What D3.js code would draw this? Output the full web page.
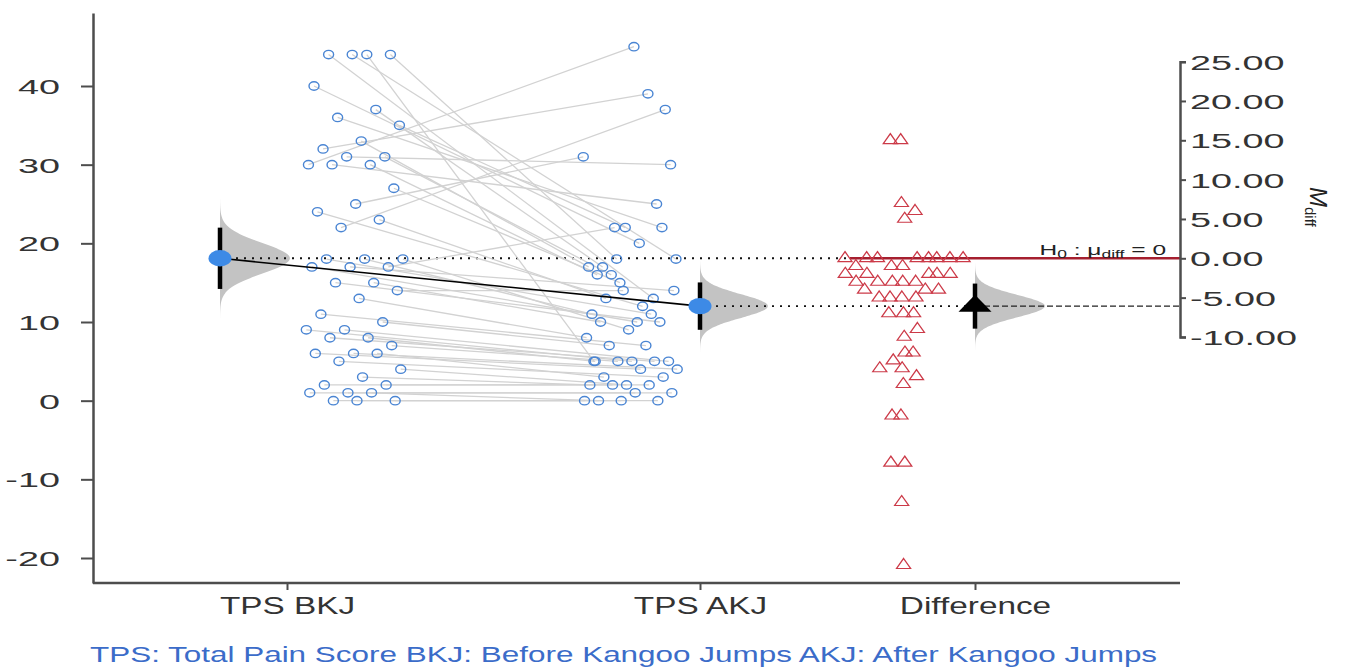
<!DOCTYPE html>
<html>
<head>
<meta charset="utf-8">
<script src="https://cdn.jsdelivr.net/npm/d3@7"></script>
<style>
  body { margin: 0; background: #fff; }
  text { font-family: "Liberation Sans", Arial, sans-serif; }
</style>
</head>
<body>
<div id="chart"></div>
<script>
// categories on the x axis
const categories = ["TPS BKJ", "TPS AKJ", "Difference"];

// paired total pain scores, same index = same participant
const bkjScores = [44, 44, 44, 44, 40, 37, 36, 35, 33, 32, 31, 31, 30, 30, 30, 27, 25, 24, 23, 22,
                   18, 18, 18, 17, 17, 17, 15, 15, 14, 13, 11, 10, 9, 9, 8, 8, 7, 6, 6, 6,
                   5, 4, 3, 2, 2, 1, 1, 1, 0, 0, 0];
const akjScores = [5, 13, 18, 18, 20, 17, 22, 22, 17, 39, 16, 30, 45, 16, 25, 15, 31, 12, 13, 37,
                   9, 11, 11, 22, 14, 10, 10, 10, 14, 8, 7, 7, 5, 5, 5, 5, 5, 4, 4, 3,
                   3, 2, 2, 2, 2, 1, 1, 0, 0, 0, 0];

const leftTicks = [-20, -10, 0, 10, 20, 30, 40];
const rightTicks = [-10, -5, 0, 5, 10, 15, 20, 25];
const footnote = "TPS: Total Pain Score BKJ: Before Kangoo Jumps AKJ: After Kangoo Jumps";

const W = 1351, H = 668;
const svg = d3.select("#chart").append("svg")
  .attr("width", W)
  .attr("height", H);

// stats (t critical for df = 50)
const tCrit = 2.009;
function stats(arr) {
  const m = d3.mean(arr), se = d3.deviation(arr) / Math.sqrt(arr.length);
  return {mean: m, se: se, lo: m - tCrit * se, hi: m + tCrit * se};
}
const diffScores = bkjScores.map((b, i) => akjScores[i] - b);
const sB = stats(bkjScores), sA = stats(akjScores), sD = stats(diffScores);

// layout
const axisX = 93, axisRightX = 1180, axisBottom = 583, axisTop = 13;
const xCat = d3.scaleOrdinal(categories, [287, 700, 975]);
const yL = d3.scaleLinear().domain([-20, 40]).range([558, 86]);
const yR = d3.scaleLinear().domain([-10, 25])
  .range([yL(-10 + sB.mean), yL(25 + sB.mean)]);

const axisColor = "#4d4d4d";
const blue = "#4a85d3", red = "#cc3a48", meanBlue = "#3d8ae6";
const hyphen = f => d => f(d).replace("\u2212", "-");

// deterministic spread of raw points
const jitter = (i, w) => (((i + 1) * 0.6180339887) % 1 - 0.5) * w;

// loose beeswarm: nearest free slot to the centre line, overlap allowed
function swarm(ys, cx, dxMin, dyMin) {
  const placed = [];
  return ys.map((y, i) => {
    let x = cx;
    for (let k = 0; k < 200; k++) {
      const off = ((k + i) % 2 ? 1 : -1) * Math.ceil(k / 2) * 2;
      const cand = cx + off;
      if (!placed.some(p => Math.abs(p.x - cand) < dxMin && Math.abs(p.y - y) < dyMin)) { x = cand; break; }
    }
    placed.push({x: x, y: y});
    return {x: x + jitter(i, 5), y: y};
  });
}

const bkjX = xCat("TPS BKJ") - 67, akjX = xCat("TPS AKJ"), diffX = xCat("Difference");
const rawB = bkjScores.map((v, i) => ({x: xCat("TPS BKJ") + 68 + jitter(i, 100), y: yL(v)}));
const rawA = akjScores.map((v, i) => ({x: xCat("TPS AKJ") - 70 + jitter(i + 17, 96), y: yL(v)}));
const rawD = swarm(diffScores.map(v => yR(v)), diffX - 72, 11.5, 9);

// sampling distributions
function densityPath(cx, yScale, s, maxW) {
  const pts = d3.range(-4.2, 4.21, 0.1).map(z => ({v: s.mean + z * s.se, w: maxW * Math.exp(-0.5 * z * z)}));
  return d3.area().curve(d3.curveBasis)
    .y(d => yScale(d.v)).x0(cx).x1(d => cx + d.w)(pts);
}
const dens = svg.append("g").attr("class", "densities").style("fill", "#c3c3c3");
dens.append("path").attr("d", densityPath(bkjX, yL, sB, 70));
dens.append("path").attr("d", densityPath(akjX, yL, sA, 68));
dens.append("path").attr("d", densityPath(diffX, yR, sD, 70));

// reference lines
const refs = svg.append("g").attr("class", "refs");
refs.append("line")
  .attr("x1", bkjX).attr("x2", 850).attr("y1", yL(sB.mean)).attr("y2", yL(sB.mean))
  .style("stroke", "#111").style("stroke-width", 2).style("stroke-dasharray", "2,6");
refs.append("line")
  .attr("x1", akjX).attr("x2", 965).attr("y1", yR(sD.mean)).attr("y2", yR(sD.mean))
  .style("stroke", "#111").style("stroke-width", 1.6).style("stroke-dasharray", "2,6");
refs.append("line")
  .attr("x1", diffX).attr("x2", axisRightX).attr("y1", yR(sD.mean)).attr("y2", yR(sD.mean))
  .style("stroke", "#222").style("stroke-width", 1.2).style("stroke-dasharray", "6,3");
refs.append("line")
  .attr("x1", 850).attr("x2", axisRightX).attr("y1", yR(0)).attr("y2", yR(0))
  .style("stroke", "#a51f2f").style("stroke-width", 2.5);

// paired lines
svg.append("g").attr("class", "pairs")
  .selectAll("line").data(d3.range(bkjScores.length)).enter()
  .append("line")
  .attr("x1", i => rawB[i].x).attr("y1", i => rawB[i].y)
  .attr("x2", i => rawA[i].x).attr("y2", i => rawA[i].y)
  .style("stroke", "#d2d2d2").style("stroke-width", 1.3);

// raw points
const pts = svg.append("g").attr("class", "raw");
pts.selectAll(".pb").data(rawB.concat(rawA)).enter()
  .append("ellipse")
  .attr("cx", d => d.x).attr("cy", d => d.y)
  .attr("rx", 5).attr("ry", 4.2)
  .style("fill", "none").style("stroke", blue).style("stroke-width", 1.4);

const triSmall = d3.symbol(d3.symbolTriangle).size(58);
pts.selectAll(".pd").data(rawD).enter()
  .append("path")
  .attr("d", triSmall)
  .attr("transform", d => "translate(" + d.x + "," + d.y + ") scale(1.22,1)")
  .style("fill", "none").style("stroke", red).style("stroke-width", 1.1);

// mean connector
svg.append("line")
  .attr("x1", bkjX).attr("y1", yL(sB.mean)).attr("x2", akjX).attr("y2", yL(sA.mean))
  .style("stroke", "#000").style("stroke-width", 1.6);

// CI bars and means
const ci = svg.append("g").attr("class", "ci").style("stroke", "#000").style("stroke-width", 4.5);
ci.append("line").attr("x1", bkjX).attr("x2", bkjX).attr("y1", yL(sB.lo)).attr("y2", yL(sB.hi));
ci.append("line").attr("x1", akjX).attr("x2", akjX).attr("y1", yL(sA.lo)).attr("y2", yL(sA.hi));
ci.append("line").attr("x1", diffX).attr("x2", diffX).attr("y1", yR(sD.lo)).attr("y2", yR(sD.hi));

svg.append("g").selectAll("ellipse")
  .data([{x: bkjX, y: yL(sB.mean)}, {x: akjX, y: yL(sA.mean)}]).enter()
  .append("ellipse")
  .attr("cx", d => d.x).attr("cy", d => d.y).attr("rx", 11.5).attr("ry", 8.2)
  .style("fill", meanBlue);

svg.append("path")
  .attr("d", d3.symbol(d3.symbolTriangle).size(167))
  .attr("transform", "translate(" + diffX + "," + yR(sD.mean) + ") scale(1.68,1)")
  .style("fill", "#000");

// axes
function styleAxis(g) {
  g.selectAll(".domain").style("stroke", axisColor).style("stroke-width", 2.5);
  g.selectAll(".tick line").style("stroke", axisColor).style("stroke-width", 2);
  g.selectAll(".tick text").style("fill", "#333").style("font-size", "21px");
}

const yAxisScale = yL.copy().domain([yL.invert(axisBottom), yL.invert(axisTop)]).range([axisBottom, axisTop]);
const gLeft = svg.append("g")
  .attr("transform", "translate(" + axisX + ",0)")
  .call(d3.axisLeft(yAxisScale).tickValues(leftTicks).tickSize(12).tickSizeOuter(0)
    .tickFormat(hyphen(d3.format("d"))));
styleAxis(gLeft);
gLeft.selectAll(".tick text")
  .attr("x", 0).attr("dy", "0.36em")
  .attr("transform", "translate(-33,0) scale(1.8,1)");

const gRight = svg.append("g")
  .attr("transform", "translate(" + axisRightX + ",0)")
  .call(d3.axisRight(yR).tickValues(rightTicks).tickSize(6).tickSizeOuter(6)
    .tickFormat(hyphen(d3.format(".2f"))));
styleAxis(gRight);
gRight.selectAll(".tick text")
  .attr("x", 0).attr("dy", "0.36em")
  .attr("transform", "translate(10,0) scale(1.8,1)");

const gBottom = svg.append("g")
  .attr("transform", "translate(0," + axisBottom + ")")
  .call(d3.axisBottom(xCat).tickSize(7).tickSizeOuter(0));
styleAxis(gBottom);
gBottom.select(".domain").attr("d", "M" + axisX + ",0H" + axisRightX);
gBottom.selectAll(".tick text")
  .attr("y", 0).attr("dy", 0)
  .style("font-size", "23px")
  .attr("transform", "translate(0,31) scale(1.45,1)");

// H0 label
const h0 = svg.append("text")
  .attr("text-anchor", "end")
  .attr("transform", "translate(1166,255) scale(1.75,1)")
  .style("font-size", "14px").style("fill", "#222");
h0.append("tspan").text("H");
h0.append("tspan").attr("dy", 3).style("font-size", "10px").text("0");
h0.append("tspan").attr("dy", -3).text(" : \u03bc");
h0.append("tspan").attr("dy", 3).style("font-size", "10px").text("diff");
h0.append("tspan").attr("dy", -3).text(" = 0");

// right axis title
const mt = svg.append("text")
  .attr("transform", "translate(1310,187) rotate(90)")
  .style("fill", "#222");
mt.append("tspan").style("font-size", "24px").style("font-style", "italic").text("M");
mt.append("tspan").attr("dy", 5).style("font-size", "15px").text("diff");

// footnote
svg.append("text")
  .attr("transform", "translate(90,662) scale(1.43,1)")
  .style("font-size", "22px").style("fill", "#3b6cc9")
  .text(footnote);
</script>
</body>
</html>
